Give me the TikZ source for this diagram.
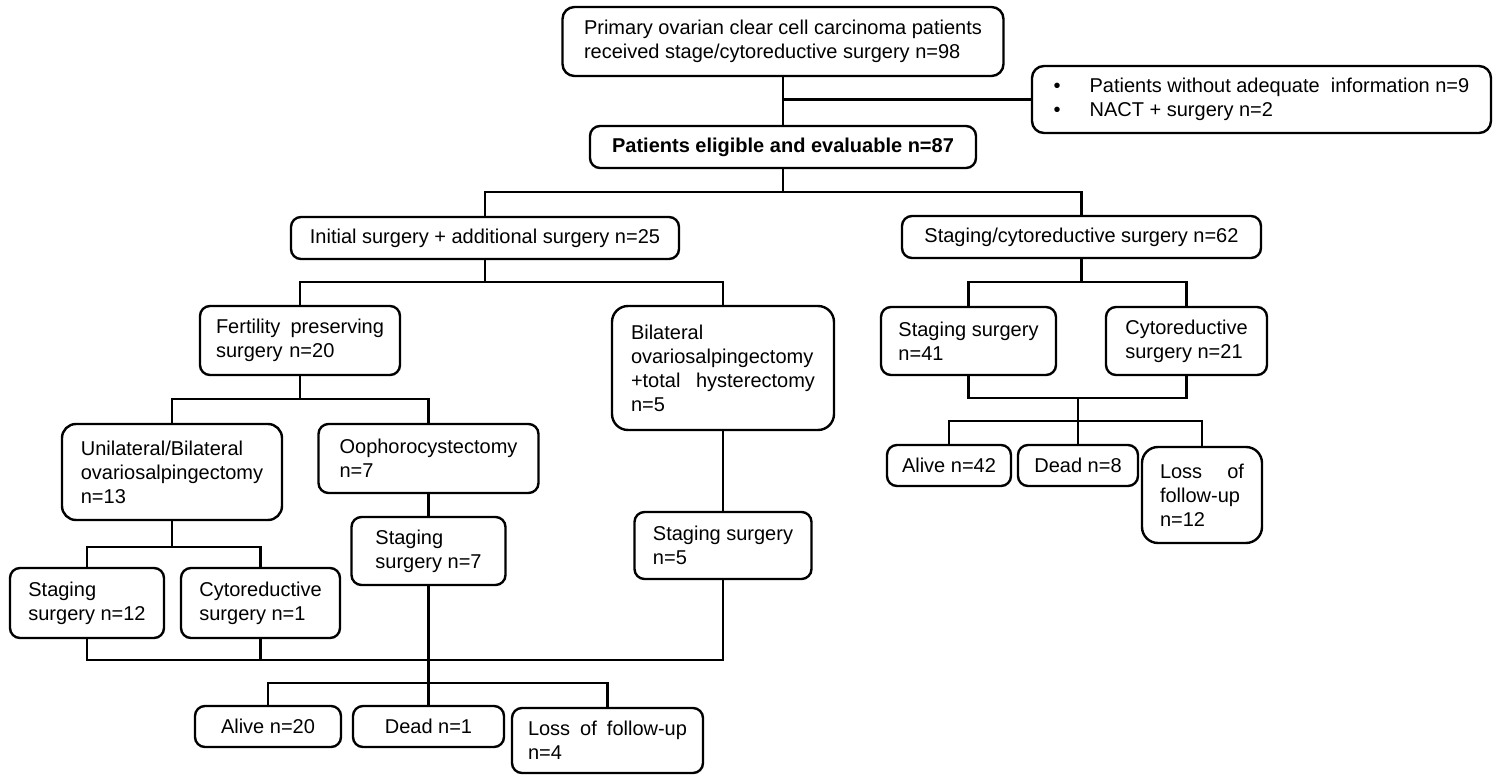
\documentclass[tikz,border=0pt]{standalone}
\usepackage{fontspec}
\setmainfont{Liberation Sans}
\usepackage{tikz}

\tikzset{
    box/.style={draw, line width=1.2pt, rounded corners=5pt, inner xsep=8pt, inner ysep=0pt,
        align=left, font=\fontsize{10}{12}\selectfont},
    conn/.style={line width=1.2pt},
}

\begin{document}
\begin{tikzpicture}[x=0.5pt, y=-0.5pt]
    \useasboundingbox (0,0) rectangle (1501,776);

    % Top of the chart
    \node[box, minimum width=220.5pt, minimum height=34.5pt, rounded corners=6pt] (top) at (783,41.5)
        {Primary ovarian clear cell carcinoma patients\\received stage/cytoreductive surgery n=98};
    \node[box, minimum width=229.5pt, minimum height=33.5pt, rounded corners=6pt] (excl) at (1261.5,99.5)
        {\makebox[18pt][l]{\textbullet}Patients without adequate~ information n=9\\
         \makebox[18pt][l]{\textbullet}NACT + surgery n=2};
    \node[box, align=center, minimum width=193pt, minimum height=21pt, font=\fontsize{10}{12}\selectfont\bfseries] (elig) at (783,147)
        {Patients eligible and evaluable n=87};

    \draw[conn] (top) -- (elig);
    \draw[conn] (excl.west) -- (excl.west -| top.south);

    % Two groups
    \node[box, align=center, minimum width=194pt, minimum height=21pt] (init) at (485,238)
        {Initial surgery + additional surgery n=25};
    \node[box, align=center, minimum width=179.5pt, minimum height=21pt] (stag) at (1081.5,237)
        {Staging/cytoreductive surgery n=62};

    \coordinate (b1) at (783,192);
    \draw[conn] (elig) -- (b1);
    \draw[conn] (init.north) |- (b1) -| (stag.north);

    % Initial surgery branch
    \node[box, text width=84pt, minimum height=34.5pt] (fert) at (300,340.5)
        {Fertility \hfill preserving\\surgery n=20};
    \node[box, text width=92pt, inner xsep=9.5pt, minimum height=62pt, rounded corners=8pt] (bilat) at (723,368)
        {Bilateral\\ovariosalpingectomy\\+total \hfill hysterectomy\\n=5};

    \coordinate (b2) at (485,282);
    \draw[conn] (init) -- (b2);
    \draw[conn] (fert.north) |- (b2) -| (bilat.north);

    \node[box, minimum width=110pt, minimum height=48pt, rounded corners=7pt] (unil) at (172,472)
        {Unilateral/Bilateral\\ovariosalpingectomy\\n=13};
    \node[box, minimum width=110pt, minimum height=34.5pt] (ooph) at (428.5,458.5)
        {Oophorocystectomy\\n=7};

    \coordinate (b3) at (300,399);
    \draw[conn] (fert) -- (b3);
    \draw[conn] (unil.north) |- (b3) -| (ooph.north);

    \node[box, minimum width=77pt, minimum height=35pt] (st12) at (87,603)
        {Staging\\surgery n=12};
    \node[box, minimum width=79.5pt, minimum height=35pt] (cy1) at (260.5,603)
        {Cytoreductive\\surgery n=1};
    \node[box, minimum width=77pt, minimum height=34pt] (st7) at (428.5,551)
        {Staging\\surgery n=7};
    \node[box, minimum width=88.5pt, minimum height=33.5pt] (st5) at (723,545.5)
        {Staging surgery\\n=5};

    \coordinate (b4) at (172,547);
    \draw[conn] (unil) -- (b4);
    \draw[conn] (st12.north) |- (b4) -| (cy1.north);
    \draw[conn] (ooph) -- (st7);
    \draw[conn] (bilat) -- (st5);

    % Outcome of the initial surgery group
    \node[box, align=center, minimum width=73pt, minimum height=20.5pt] (alive1) at (268,726.5)
        {Alive n=20};
    \node[box, align=center, minimum width=75.5pt, minimum height=20.5pt] (dead1) at (428.5,726.5)
        {Dead n=1};
    \node[box, text width=79.5pt, minimum height=32.5pt] (loss1) at (607.5,740.5)
        {Loss \hfill of \hfill follow-up\\n=4};

    \coordinate (m1) at (428.5,660);
    \coordinate (b5) at (428.5,683);
    \draw[conn] (st12.south) |- (m1);
    \draw[conn] (st5.south) |- (m1);
    \draw[conn] (cy1.south) -- (cy1.south |- m1);
    \draw[conn] (st7.south) -- (b5);
    \draw[conn] (alive1.north) |- (b5) -| (loss1.north);
    \draw[conn] (b5) -- (dead1);

    % Staging/cytoreductive branch
    \node[box, minimum width=87.5pt, minimum height=34pt] (st41) at (968.5,341)
        {Staging surgery\\n=41};
    \node[box, minimum width=80.5pt, minimum height=34pt] (cy21) at (1186.5,341)
        {Cytoreductive\\surgery n=21};

    \coordinate (b6) at (1081.5,282);
    \draw[conn] (stag) -- (b6);
    \draw[conn] (st41.north) |- (b6) -| (cy21.north);

    \node[box, align=center, minimum width=62pt, minimum height=20.5pt, inner xsep=4pt] (alive2) at (949,465.5)
        {Alive n=42};
    \node[box, align=center, minimum width=60pt, minimum height=20.5pt] (dead2) at (1078,465.5)
        {Dead n=8};
    \node[box, text width=42pt, inner xsep=9pt, minimum height=48pt, rounded corners=8pt] (loss2) at (1202,495)
        {Loss \hfill of\\follow-up\\n=12};

    \coordinate (m2) at (1078,398);
    \coordinate (b7) at (1078,421);
    \draw[conn] (st41.south) |- (m2) -| (cy21.south);
    \draw[conn] (m2) -- (b7);
    \draw[conn] (alive2.north) |- (b7) -| (loss2.north);
    \draw[conn] (b7) -- (dead2);
\end{tikzpicture}
\end{document}
